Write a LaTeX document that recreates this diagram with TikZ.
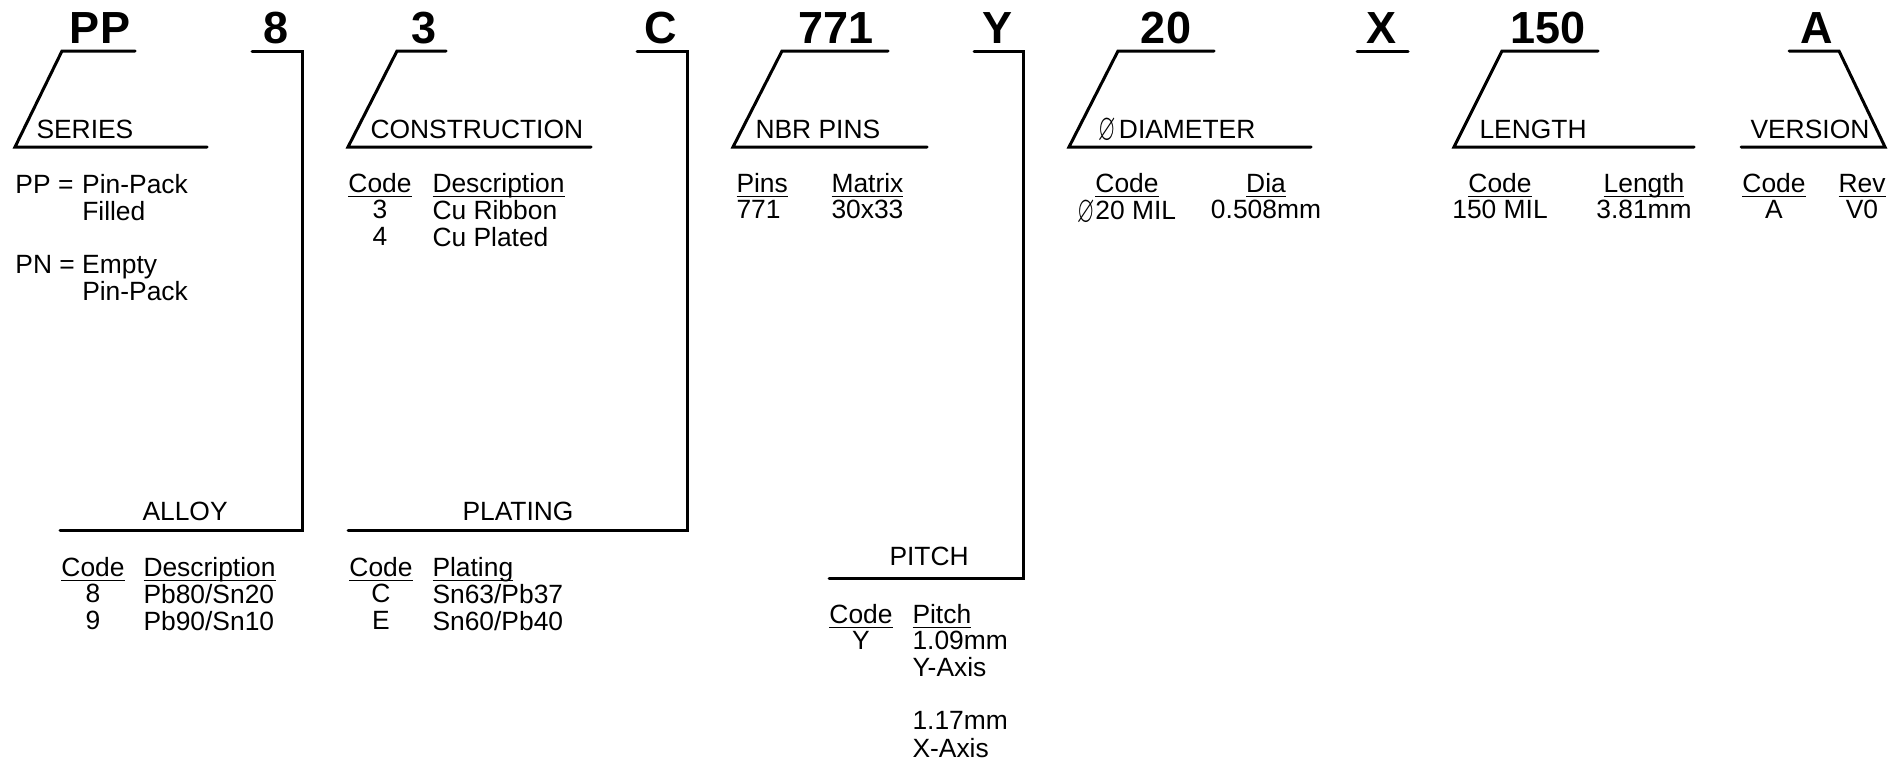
\documentclass[tikz,border=0pt]{standalone}
\usepackage{amssymb}
\usepackage{fontspec}
\setmainfont{Liberation Sans}
\newcommand{\hdr}[1]{\setbox0\hbox{#1}\rlap{\rule[-2.6pt]{\wd0}{0.65pt}}\box0}
\newcommand{\colc}[1]{\begin{tabular}[t]{@{}c@{}}#1\end{tabular}}
\newcommand{\coll}[1]{\begin{tabular}[t]{@{}l@{}}#1\end{tabular}}
\newcommand{\dia}{\raisebox{-1.2pt}{\scalebox{0.85}[1.45]{$\varnothing$}}}

\begin{document}
\begin{tikzpicture}[x=0.5pt,y=-0.5pt,line width=1.5pt,line cap=round,
    code/.style={font=\fontsize{22.5}{24}\selectfont\bfseries,inner sep=0pt,anchor=base},
    lbl/.style={font=\fontsize{13.2}{13.3}\selectfont,inner sep=0pt,anchor=base west},
    tbl/.style={lbl,anchor=base}]
  \useasboundingbox (0,0) rectangle (1904,760);

  % part number
  \node[code] (cser) at (100,43) {PP};
  \node[code] (calloy) at (276,43) {8};
  \node[code] (ccon) at (424,43) {3};
  \node[code] (cplat) at (661,43) {C};
  \node[code] (cpins) at (836,43) {771};
  \node[code] (cpitch) at (997,43) {Y};
  \node[code] (cdia) at (1166,43) {20};
  \node[code] (cx) at (1381,43) {X};
  \node[code] (clen) at (1548,43) {150};
  \node[code] (cver) at (1817,43) {A};

  % brackets
  \draw (135,51) -- (62,51) -- (15,147) -- (207,147);
  \draw (252,51) -- (302,51) -- (302,530) -- (60,530);
  \draw (446,51) -- (397,51) -- (348,147) -- (591,147);
  \draw (637,51) -- (687,51) -- (687,530) -- (348,530);
  \draw (888,51) -- (782,51) -- (733,147) -- (927,147);
  \draw (974,51) -- (1023,51) -- (1023,578) -- (829,578);
  \draw (1214,51) -- (1118,51) -- (1069,147) -- (1311,147);
  \draw (1357,51) -- (1408,51);
  \draw (1598,51) -- (1502,51) -- (1454,147) -- (1694,147);
  \draw (1789,51) -- (1839,51) -- (1885,147) -- (1741,147);

  % labels
  \node[lbl] (lser) at (35,138) {SERIES};
  \node[lbl] (lcon) at (369,138) {CONSTRUCTION};
  \node[lbl] (lpins) at (754,138) {NBR PINS};
  \node[lbl] (ldia) at (1097,138) {\dia\hspace{1.5pt}DIAMETER};
  \node[lbl] (llen) at (1478,138) {LENGTH};
  \node[lbl] (lver) at (1749,138) {VERSION};
  \node[lbl] (lalloy) at (141,520) {ALLOY};
  \node[lbl] (lplat) at (461,520) {PLATING};
  \node[lbl] (lpitch) at (888,565) {PITCH};

  % tables
  \node[lbl] (tser) at (14,193) {\begin{tabular}[t]{@{}l@{\ }l@{}}
      PP = & Pin-Pack\\ & Filled\\ & \\ PN = & Empty\\ & Pin-Pack\end{tabular}};
  \node[tbl] (tconc) at (380,192) {\colc{\hdr{Code}\\3\\4}};
  \node[lbl] (tcond) at (431,192) {\coll{\hdr{Description}\\Cu Ribbon\\Cu Plated}};
  \node[lbl] (tpinsp) at (735,192) {\coll{\hdr{Pins}\\771}};
  \node[lbl] (tpinsm) at (830,192) {\coll{\hdr{Matrix}\\30x33}};
  \node[tbl] (tdiac) at (1127,192) {\colc{\hdr{Code}\\\dia20 MIL}};
  \node[tbl] (tdiad) at (1266,192) {\colc{\hdr{Dia}\\0.508mm}};
  \node[tbl] (tlenc) at (1500,192) {\colc{\hdr{Code}\\150 MIL}};
  \node[tbl] (tlenl) at (1644,192) {\colc{\hdr{Length}\\3.81mm}};
  \node[tbl] (tverc) at (1774,192) {\colc{\hdr{Code}\\A}};
  \node[tbl] (tverr) at (1862,192) {\colc{\hdr{Rev}\\V0}};
  \node[tbl] (talloyc) at (93,576) {\colc{\hdr{Code}\\8\\9}};
  \node[lbl] (talloyd) at (142,576) {\coll{\hdr{Description}\\Pb80/Sn20\\Pb90/Sn10}};
  \node[tbl] (tplatc) at (381,576) {\colc{\hdr{Code}\\C\\E}};
  \node[lbl] (tplatp) at (431,576) {\coll{\hdr{Plating}\\Sn63/Pb37\\Sn60/Pb40}};
  \node[tbl] (tpitchc) at (861,623) {\colc{\hdr{Code}\\Y}};
  \node[lbl] (tpitchp) at (911,623) {\coll{\hdr{Pitch}\\1.09mm\\Y-Axis\\ \\1.17mm\\X-Axis}};
\end{tikzpicture}
\end{document}
